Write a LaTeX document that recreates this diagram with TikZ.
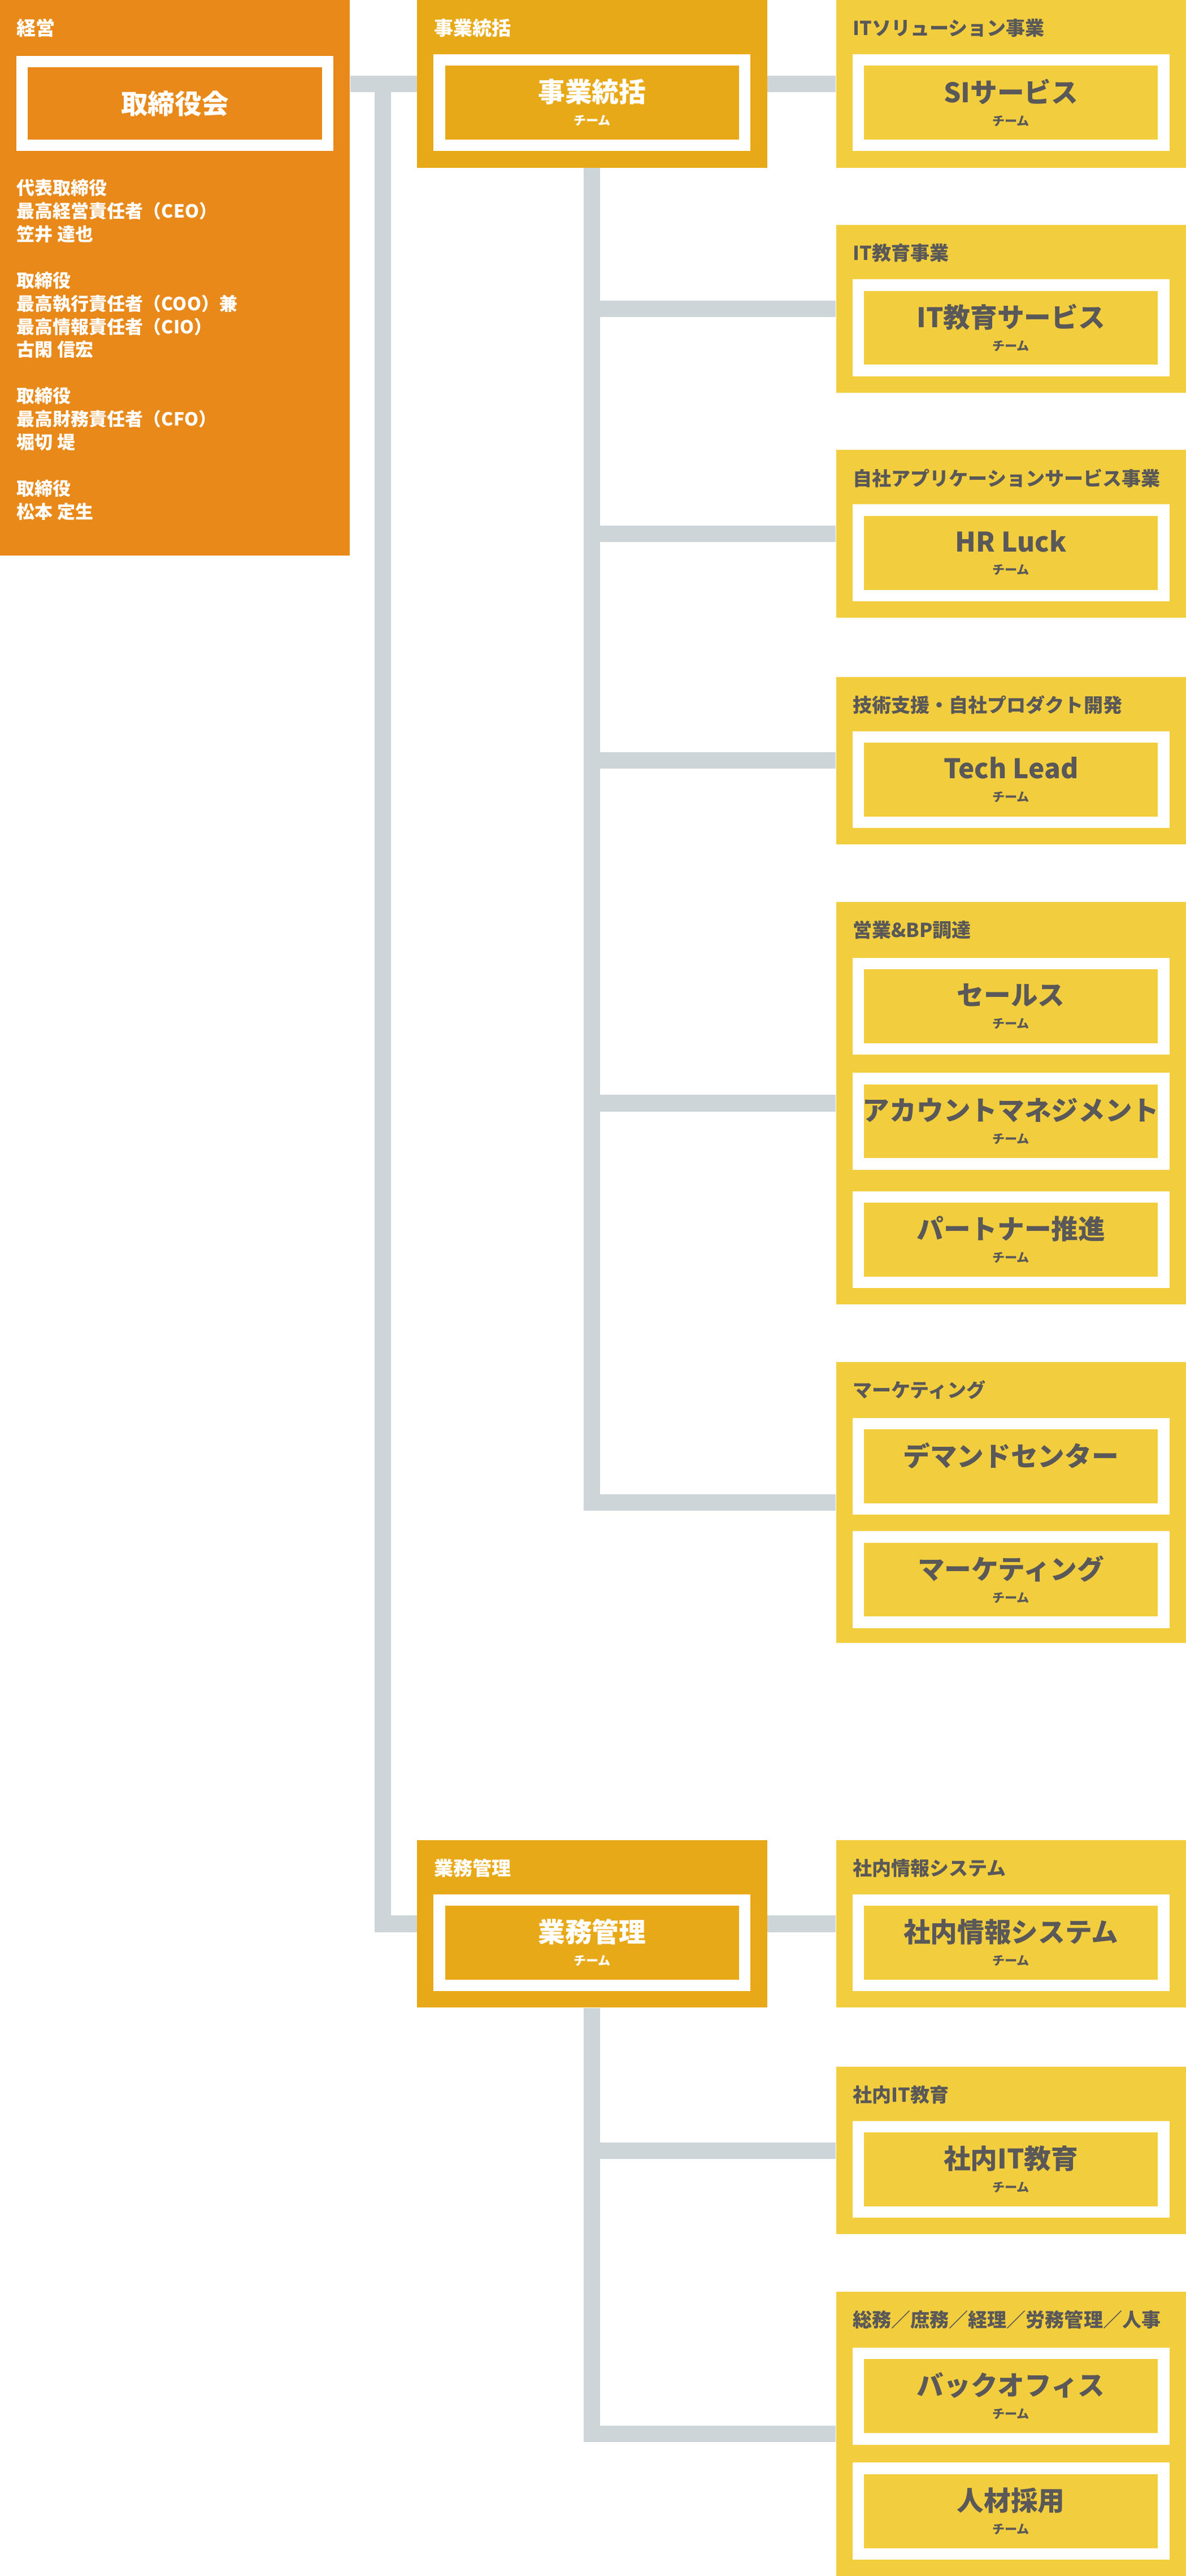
\documentclass[tikz,border=0pt]{standalone}
\usepackage{fontspec}
\setmainfont{Noto Sans CJK JP}
\usetikzlibrary{fit, positioning}
\definecolor{keiei}{HTML}{E8891A}
\definecolor{tokatsu}{HTML}{E8A918}
\definecolor{jigyo}{HTML}{F2CE3E}
\definecolor{sen}{HTML}{CDD5D8}
\definecolor{moji}{HTML}{5A5858}
\tikzset{
  blk/.style={inner sep=0pt, draw=none},
  frm/.style={inner sep=0pt, draw=white, line width=0.21cm},
  ttl/.style={anchor=west, inner sep=0pt, font=\fontsize{10}{12}\selectfont\bfseries},
  lbl/.style={align=center, inner sep=0pt, font=\fontsize{14}{15}\selectfont\bfseries},
  conn/.style={draw=sen, line width=0.3cm, line join=miter},
}
% unit box: name, x1, y1, y2, colour, title, title colour
\newcommand{\unitbox}[7]{%
  \node[blk, fill=#5, fit={(#2,#3)(#2+213,#4)}] (#1) {};
  \node[ttl, text=#7] at (#2+10,#3+17) {#6};}
% team frame: name, x1, y1, fill, text colour, label, sub
\newcommand{\teamfrm}[7]{%
  \node[frm, fill=#4, fit={(#2+13.5,#3+3.5)(#2+199.5,#3+55.5)}] (#1) {};
  \node[lbl, text=#5] at (#1) {#6\\[-3pt]{\fontsize{6.5}{7}\selectfont #7}};}
\begin{document}
\begin{tikzpicture}[x=0.03cm, y=-0.03cm]
\useasboundingbox (0,0) rectangle (722,1568);

% connectors
\coordinate (j) at (233,51);
\unitbox{keiei}{0}{0}{338}{keiei}{経営}{white}
\unitbox{m1}{254}{0}{102}{tokatsu}{事業統括}{white}
\unitbox{m2}{254}{1120}{1222}{tokatsu}{業務管理}{white}
\draw[conn] (keiei.east |- m1.west) -- (m1.west);
\draw[conn] (j) -- (j |- m2.west) -- (m2.west);

% business units
\unitbox{r1}{509}{0}{102}{jigyo}{ITソリューション事業}{moji}
\unitbox{r2}{509}{137}{239}{jigyo}{IT教育事業}{moji}
\unitbox{r3}{509}{274}{376}{jigyo}{自社アプリケーションサービス事業}{moji}
\unitbox{r4}{509}{412}{514}{jigyo}{技術支援・自社プロダクト開発}{moji}
\unitbox{r5}{509}{549}{794}{jigyo}{営業\&BP調達}{moji}
\unitbox{r6}{509}{829}{1000}{jigyo}{マーケティング}{moji}
\unitbox{r7}{509}{1120}{1222}{jigyo}{社内情報システム}{moji}
\unitbox{r8}{509}{1258}{1360}{jigyo}{社内IT教育}{moji}
\unitbox{r9}{509}{1395}{1568}{jigyo}{総務／庶務／経理／労務管理／人事}{moji}

\draw[conn] (m1.east) -- (r1.west);
\draw[conn] (m1.south) -- (m1.south |- r6.west) -- (r6.west);
\foreach \r in {r2,r3,r4,r5}
  \draw[conn] (m1.south |- \r.west) -- (\r.west);
\draw[conn] (m2.east) -- (r7.west);
\draw[conn] (m2.south) -- (m2.south |- r9.west) -- (r9.west);
\draw[conn] (m2.south |- r8.west) -- (r8.west);

% teams
\node[frm, fill=keiei, fit={(13.5,37.5)(199.5,88.5)}] (board) {};
\node[lbl, text=white] at (board) {取締役会};
\teamfrm{t0}{254}{33}{tokatsu}{white}{事業統括}{チーム}
\teamfrm{t1}{509}{33}{jigyo}{moji}{SIサービス}{チーム}
\teamfrm{t2}{509}{170}{jigyo}{moji}{IT教育サービス}{チーム}
\teamfrm{t3}{509}{307}{jigyo}{moji}{HR Luck}{チーム}
\teamfrm{t4}{509}{445}{jigyo}{moji}{Tech Lead}{チーム}
\teamfrm{t5}{509}{583}{jigyo}{moji}{セールス}{チーム}
\teamfrm{t6}{509}{653}{jigyo}{moji}{アカウントマネジメント}{チーム}
\teamfrm{t7}{509}{725}{jigyo}{moji}{パートナー推進}{チーム}
\teamfrm{t8}{509}{863}{jigyo}{moji}{デマンドセンター}{}
\teamfrm{t9}{509}{932}{jigyo}{moji}{マーケティング}{チーム}
\teamfrm{t10}{254}{1153}{tokatsu}{white}{業務管理}{チーム}
\teamfrm{t11}{509}{1153}{jigyo}{moji}{社内情報システム}{チーム}
\teamfrm{t12}{509}{1291}{jigyo}{moji}{社内IT教育}{チーム}
\teamfrm{t13}{509}{1429}{jigyo}{moji}{バックオフィス}{チーム}
\teamfrm{t14}{509}{1499}{jigyo}{moji}{人材採用}{チーム}

% officers
\node[anchor=north west, inner sep=0pt, align=left, text=white,
  font=\fontsize{9.4}{12}\selectfont\bfseries] (yakuin) at (10,109)
  {代表取締役\\最高経営責任者（CEO）\\笠井 達也\\[12pt]
   取締役\\最高執行責任者（COO）兼\\最高情報責任者（CIO）\\古閑 信宏\\[12pt]
   取締役\\最高財務責任者（CFO）\\堀切 堤\\[12pt]
   取締役\\松本 定生};
\end{tikzpicture}
\end{document}
